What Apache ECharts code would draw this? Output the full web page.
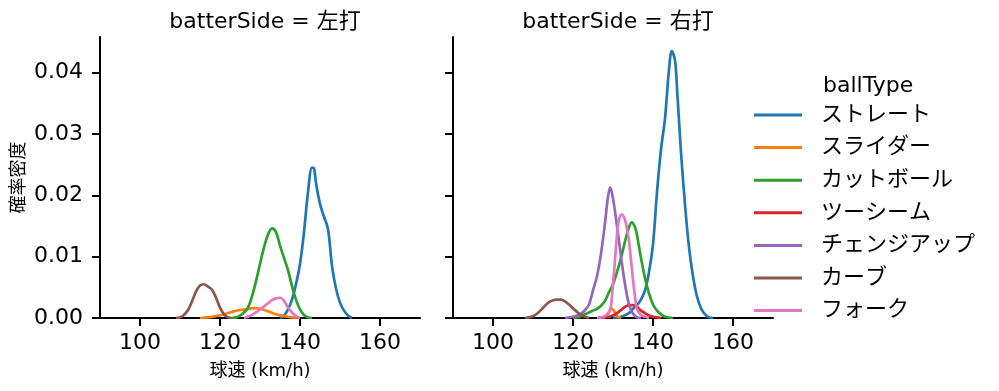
<!DOCTYPE html>
<html>
<head>
<meta charset="utf-8">
<script src="https://cdn.jsdelivr.net/npm/echarts@6/dist/echarts.min.js"></script>
<style>html,body{margin:0;padding:0;background:#fff}#c{width:999px;height:391px}</style>
</head>
<body>
<div id="c"></div>
<script>
// ---- data (speed km/h, density) ----
const panelTitles = ['batterSide = 左打', 'batterSide = 右打'];
const ballTypes = ['ストレート', 'スライダー', 'カットボール', 'ツーシーム', 'チェンジアップ', 'カーブ', 'フォーク'];
const xTicks = [100, 120, 140, 160];
const yTicks = [0, 0.01, 0.02, 0.03, 0.04];

// left panel (左打)
const L_straight = [[135,0],[136,0.0004],[137,0.0014],[138,0.003],[139,0.0055],[140,0.0088],[141,0.014],[142,0.0205],[143,0.0245],[143.5,0.0244],[144,0.022],[145,0.0186],[146,0.0165],[147,0.0145],[148,0.0085],[149,0.0048],[150,0.0025],[151,0.0012],[152,0.0004],[153,0]];
const L_slider = [[115,0],[117,0.0001],[119,0.0003],[121,0.0006],[123,0.001],[125,0.0013],[127,0.0015],[128.5,0.0016],[130,0.0015],[132,0.0011],[134,0.0006],[136,0.0003],[138,0.0001],[140,0]];
const L_cutter = [[123,0],[124,0.0001],[125,0.0004],[126,0.0009],[127,0.0017],[128,0.0035],[129,0.006],[130,0.0088],[131,0.0115],[132,0.0136],[133,0.0146],[134,0.014],[135,0.0118],[136,0.0098],[137,0.0078],[138,0.0052],[139,0.003],[140,0.0014],[141,0.0005],[142,0.0001],[143,0]];
const L_curve = [[109,0],[110,0.0001],[111,0.0005],[112,0.0013],[113,0.0027],[114,0.0043],[115,0.0053],[116,0.0055],[117,0.0051],[118,0.0046],[119,0.0033],[120,0.0017],[121,0.0006],[122,0.0001],[123,0]];
const L_fork = [[126,0],[127,0.0002],[128,0.0005],[129,0.0009],[130,0.0014],[131,0.0019],[132,0.0024],[133,0.0029],[134,0.0032],[135,0.0033],[136,0.0028],[137,0.0017],[138,0.0009],[139,0.0003],[140,0]];

// right panel (右打)
const R_straight = [[130,0],[132,0.0002],[134,0.0008],[135,0.0015],[136,0.0021],[137,0.003],[138,0.0045],[139,0.0075],[140,0.012],[141,0.0205],[142,0.0275],[143,0.0325],[144,0.0405],[144.7,0.0435],[145.5,0.042],[146,0.0375],[147,0.027],[148,0.0185],[149,0.0115],[150,0.0068],[151,0.0035],[152,0.0016],[153,0.0006],[154,0.0001],[155,0]];
const R_slider = [[127,0],[128,0.0002],[128.7,0.0007],[129.2,0.0012],[129.7,0.0015],[130.2,0.0012],[130.7,0.0006],[131.2,0.0002],[132,0]];
const R_cutter = [[120,0],[122,0.0003],[123,0.0006],[124,0.0009],[125,0.0012],[126,0.0015],[127,0.002],[128,0.0028],[129,0.0042],[130,0.0055],[131,0.0075],[132,0.0098],[133,0.0125],[134,0.0148],[134.7,0.0156],[135.5,0.0148],[136,0.0135],[137,0.0098],[138,0.0065],[139,0.004],[140,0.0022],[141,0.0012],[142,0.0006],[143,0.0002],[145,0]];
const R_twoseam = [[126,0],[128,0.0001],[129,0.0002],[130,0.0004],[131,0.0008],[132,0.0013],[133,0.0018],[134,0.0021],[135,0.0021],[136,0.0018],[137,0.0012],[138,0.0008],[139,0.0004],[140,0.0002],[141,0.0001],[142,0]];
const R_change = [[118,0],[120,0.0002],[121,0.0004],[122,0.0007],[123,0.0013],[124,0.0022],[125,0.0045],[126,0.0068],[127,0.0105],[128,0.0155],[128.7,0.0195],[129.3,0.0213],[130,0.0195],[131,0.015],[132,0.01],[133,0.0055],[134,0.0022],[135,0.0007],[136,0.0001],[137,0]];
const R_curve = [[108,0],[109,0.0001],[110,0.0003],[111,0.0007],[112,0.0013],[113,0.002],[114,0.0026],[115,0.0029],[116,0.003],[117,0.003],[118,0.0027],[119,0.0022],[120,0.0016],[121,0.001],[122,0.0005],[123,0.0002],[124,0]];
const R_fork = [[126,0],[127,0.0001],[128,0.0003],[129,0.0009],[129.5,0.002],[130,0.0055],[130.5,0.0095],[131,0.0135],[131.5,0.016],[132.2,0.0169],[133,0.016],[133.5,0.0145],[134,0.0125],[134.5,0.0095],[135,0.0062],[135.5,0.0035],[136,0.0015],[137,0.0005],[138,0.0002],[139,0]];

const colors = {'ストレート':'#1f77b4','スライダー':'#ff7f0e','カットボール':'#2ca02c','ツーシーム':'#d62728','チェンジアップ':'#9467bd','カーブ':'#8c564b','フォーク':'#e377c2'};

const FONT = "'DejaVu Sans', 'Noto Sans CJK JP', sans-serif";
const leftSeries = [['ストレート',L_straight],['スライダー',L_slider],['カットボール',L_cutter],['カーブ',L_curve],['フォーク',L_fork]];
const rightSeries = [['ストレート',R_straight],['スライダー',R_slider],['カットボール',R_cutter],['ツーシーム',R_twoseam],['チェンジアップ',R_change],['カーブ',R_curve],['フォーク',R_fork]];

function mkSeries(list, idx) {
  return list.map(([name, data]) => ({
    name, type: 'line', xAxisIndex: idx, yAxisIndex: idx, data,
    smooth: 0.35, showSymbol: false, symbol: 'none',
    lineStyle: { color: colors[name], width: 2.7 }, itemStyle: { color: colors[name] },
    z: 2
  }));
}

const axisLine = { show: true, lineStyle: { color: '#000', width: 2 } };
const axisTick = (vals) => ({ show: true, length: 8, lineStyle: { color: '#000', width: 2 }, customValues: vals });

function xAxisCfg(i) {
  return {
    gridIndex: i, type: 'value', min: 90, max: 170,
    axisLine, axisTick: axisTick(xTicks), splitLine: { show: false },
    axisLabel: { customValues: xTicks, fontSize: 22, color: '#000', fontFamily: FONT, margin: 14 },
    name: '球速 (km/h)', nameLocation: 'middle', nameGap: 44,
    nameTextStyle: { fontSize: 18, color: '#000', fontFamily: FONT }
  };
}
function yAxisCfg(i) {
  const c = {
    gridIndex: i, type: 'value', min: 0, max: 0.0458,
    axisLine, axisTick: axisTick(yTicks), splitLine: { show: false },
    axisLabel: { show: i === 0, customValues: yTicks, fontSize: 22, color: '#000', fontFamily: FONT, margin: 17,
      formatter: v => v.toFixed(2) }
  };
  if (i === 0) {
    c.name = '確率密度'; c.nameLocation = 'middle'; c.nameGap = 72; c.nameRotate = 90;
    c.nameTextStyle = { fontSize: 18, color: '#000', fontFamily: FONT };
  }
  return c;
}

const chart = echarts.init(document.getElementById('c'), null, { renderer: 'canvas' });
chart.setOption({
  animation: false,
  backgroundColor: '#fff',
  title: [
    { text: panelTitles[0], left: 260, top: 6, textAlign: 'center', textStyle: { fontSize: 22, fontWeight: 'normal', color: '#000', fontFamily: FONT } },
    { text: panelTitles[1], left: 613, top: 6, textAlign: 'center', textStyle: { fontSize: 22, fontWeight: 'normal', color: '#000', fontFamily: FONT } },
    { text: 'ballType', left: 818, top: 70, textStyle: { fontSize: 22, fontWeight: 'normal', color: '#000', fontFamily: FONT } }
  ],
  legend: {
    orient: 'vertical', left: 754, top: 104, padding: 0,
    data: ballTypes, icon: 'rect', itemWidth: 48, itemHeight: 3, itemGap: 10.6,
    textStyle: { fontSize: 22, lineHeight: 22, color: '#000', fontFamily: FONT, padding: [0, 0, 0, 14] },
    selectedMode: false
  },
  grid: [
    { left: 100, top: 37, width: 320, height: 281 },
    { left: 453, top: 37, width: 320, height: 281 }
  ],
  xAxis: [xAxisCfg(0), xAxisCfg(1)],
  yAxis: [yAxisCfg(0), yAxisCfg(1)],
  series: [...mkSeries(leftSeries, 0), ...mkSeries(rightSeries, 1)]
});
</script>
</body>
</html>
